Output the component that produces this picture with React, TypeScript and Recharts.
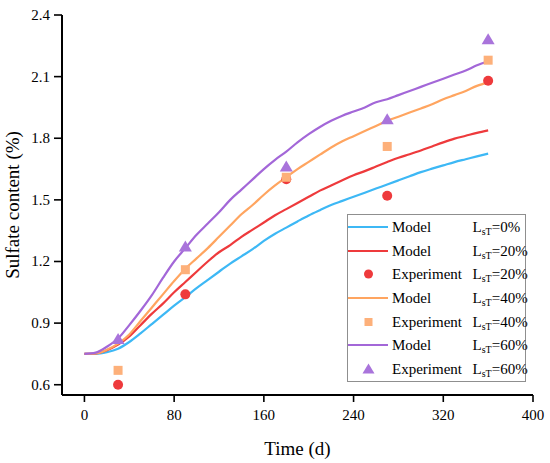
import React from "react";
import {
  ComposedChart,
  Line,
  Scatter,
  XAxis,
  YAxis,
  Legend,
  Label,
} from "recharts";

// ---- data ----
const days = [0, 10, 20, 30, 40, 50, 60, 70, 80, 90, 100, 110, 120, 130, 140, 150, 160, 170, 180, 190, 200, 210, 220, 230, 240, 250, 260, 270, 280, 290, 300, 310, 320, 330, 340, 350, 360];
const model0 = [0.75, 0.75, 0.758, 0.775, 0.808, 0.85, 0.895, 0.94, 0.985, 1.027, 1.07, 1.11, 1.15, 1.19, 1.225, 1.26, 1.3, 1.335, 1.365, 1.395, 1.424, 1.45, 1.475, 1.495, 1.515, 1.535, 1.555, 1.575, 1.595, 1.615, 1.635, 1.652, 1.668, 1.684, 1.698, 1.712, 1.725];
const model20 = [0.75, 0.752, 0.768, 0.795, 0.835, 0.89, 0.945, 0.995, 1.05, 1.1, 1.15, 1.2, 1.245, 1.28, 1.32, 1.355, 1.39, 1.425, 1.455, 1.485, 1.515, 1.545, 1.57, 1.595, 1.62, 1.64, 1.662, 1.684, 1.705, 1.722, 1.74, 1.76, 1.78, 1.798, 1.812, 1.826, 1.838];
const model40 = [0.75, 0.752, 0.77, 0.8, 0.845, 0.91, 0.975, 1.04, 1.105, 1.165, 1.215, 1.265, 1.32, 1.375, 1.43, 1.475, 1.525, 1.57, 1.61, 1.65, 1.685, 1.72, 1.755, 1.785, 1.81, 1.835, 1.86, 1.885, 1.905, 1.925, 1.945, 1.965, 1.99, 2.01, 2.03, 2.055, 2.072];
const model60 = [0.75, 0.756, 0.785, 0.825, 0.89, 0.96, 1.035, 1.12, 1.2, 1.265, 1.33, 1.385, 1.44, 1.5, 1.55, 1.6, 1.65, 1.695, 1.735, 1.78, 1.82, 1.855, 1.885, 1.91, 1.93, 1.95, 1.975, 1.99, 2.01, 2.03, 2.05, 2.07, 2.09, 2.11, 2.13, 2.155, 2.175];

const expDays = [30, 90, 180, 270, 360];
const exp20 = [0.6, 1.04, 1.6, 1.52, 2.08];
const exp40 = [0.67, 1.16, 1.61, 1.76, 2.18];
const exp60 = [0.82, 1.27, 1.66, 1.89, 2.28];

const xTicks = [0, 80, 160, 240, 320, 400];
const yTicks = [0.6, 0.9, 1.2, 1.5, 1.8, 2.1, 2.4];

// ---- styles ----
const C0 = "#3DB8F5";
const C20 = "#EE3A3C";
const C40 = "#FFA560";
const C40s = "#FDB07A";
const C60 = "#A367D8";
const C60t = "#A974DB";
const FONT = "Liberation Serif";

const modelTable = days.map((t, i) => ({
  t,
  m0: model0[i],
  m20: model20[i],
  m40: model40[i],
  m60: model60[i],
}));
const toPts = (vals: number[]) => expDays.map((t, i) => ({ t, v: vals[i] }));
const exp20Pts = toPts(exp20);
const exp40Pts = toPts(exp40);
const exp60Pts = toPts(exp60);

const CircleShape = (p: any) => <circle cx={p.cx} cy={p.cy} r={5} fill={C20} />;
const SquareShape = (p: any) => (
  <rect x={p.cx - 4.5} y={p.cy - 4.5} width={9} height={9} fill={C40s} />
);
const TriShape = (p: any) => (
  <polygon
    points={`${p.cx},${p.cy - 6.5} ${p.cx - 6.5},${p.cy + 4.5} ${p.cx + 6.5},${p.cy + 4.5}`}
    fill={C60t}
  />
);

type Row = { kind: "line" | "circle" | "square" | "tri"; color: string; name: string; pct: string };
const legendRows: Row[] = [
  { kind: "line", color: C0, name: "Model", pct: "0%" },
  { kind: "line", color: C20, name: "Model", pct: "20%" },
  { kind: "circle", color: C20, name: "Experiment", pct: "20%" },
  { kind: "line", color: C40, name: "Model", pct: "40%" },
  { kind: "square", color: C40s, name: "Experiment", pct: "40%" },
  { kind: "line", color: C60, name: "Model", pct: "60%" },
  { kind: "tri", color: C60t, name: "Experiment", pct: "60%" },
];

const LegendBox = () => (
  <div
    style={{
      width: 179,
      height: 168,
      border: "1px solid #8f8f8f",
      boxSizing: "border-box",
      background: "#fff",
      fontFamily: FONT,
      fontSize: 15,
      color: "#000",
    }}
  >
    {legendRows.map((r, i) => (
      <div key={i} style={{ position: "relative", height: 23.7 }}>
        <svg width={40} height={24} style={{ position: "absolute", left: 0, top: 0 }}>
          {r.kind === "line" && <line x1={0} x2={40} y1={12} y2={12} stroke={r.color} strokeWidth={2.2} />}
          {r.kind === "circle" && <circle cx={20.5} cy={12} r={4.5} fill={r.color} />}
          {r.kind === "square" && <rect x={16.5} y={8} width={8} height={8} fill={r.color} />}
          {r.kind === "tri" && <polygon points="20.5,6.5 14.5,16.5 26.5,16.5" fill={r.color} />}
        </svg>
        <span style={{ position: "absolute", left: 44, top: 3, lineHeight: "18px", whiteSpace: "nowrap" }}>{r.name}</span>
        <span style={{ position: "absolute", left: 124.5, top: 3, lineHeight: "18px", whiteSpace: "nowrap" }}>
          L<sub style={{ fontSize: 10, verticalAlign: "-3px", lineHeight: 0 }}>sT</sub>={r.pct}
        </span>
      </div>
    ))}
  </div>
);

const XTitle = (props: any) => {
  const vb = props.viewBox || { x: 62, y: 395, width: 471, height: 68 };
  return (
    <text x={vb.x + vb.width / 2} y={vb.y + 60} textAnchor="middle" style={{ fontFamily: FONT, fontSize: 19 }} fill="#000">
      Time (d)
    </text>
  );
};
const YTitle = (props: any) => {
  const vb = props.viewBox || { x: 0, y: 15, width: 62, height: 380 };
  const cx = vb.x + 19;
  const cy = vb.y + vb.height / 2;
  return (
    <text x={cx} y={cy} textAnchor="middle" transform={`rotate(-90, ${cx}, ${cy})`} style={{ fontFamily: FONT, fontSize: 19 }} fill="#000">
      Sulfate content (%)
    </text>
  );
};

const XTick = (p: any) => (
  <text x={p.x} y={p.y} dy={14} textAnchor="middle" style={{ fontFamily: FONT, fontSize: 15 }} fill="#000">
    {p.payload.value}
  </text>
);
const YTick = (p: any) => (
  <text x={p.x} y={p.y} dy={5} textAnchor="end" style={{ fontFamily: FONT, fontSize: 15 }} fill="#000">
    {Number(p.payload.value).toFixed(1)}
  </text>
);

export default function App() {
  return (
    <div style={{ position: "absolute", left: 0, top: 0, width: 550, height: 463, background: "#fff", fontFamily: FONT }}>
      <ComposedChart
        width={550}
        height={463}
        data={modelTable}
        margin={{ top: 15, right: 17, bottom: 0, left: 0 }}
        style={{ fontFamily: FONT }}
      >
        <XAxis
          dataKey="t"
          type="number"
          domain={[-20, 400]}
          ticks={xTicks}
          allowDataOverflow
          height={68}
          tickSize={7}
          tickMargin={4}
          tick={<XTick />}
          axisLine={{ stroke: "#000", strokeWidth: 2 }}
          tickLine={{ stroke: "#000", strokeWidth: 1.6 }}
        >
          <Label content={<XTitle />} />
        </XAxis>
        <XAxis
          xAxisId="top"
          orientation="top"
          type="number"
          domain={[-20, 400]}
          height={0}
          tick={false}
          tickLine={false}
          axisLine={{ stroke: "#000", strokeWidth: 2 }}
        />
        <YAxis
          type="number"
          domain={[0.55, 2.4]}
          ticks={yTicks}
          allowDataOverflow
          width={62}
          tickSize={8}
          tickMargin={4}
          tick={<YTick />}
          axisLine={{ stroke: "#000", strokeWidth: 2 }}
          tickLine={{ stroke: "#000", strokeWidth: 1.6 }}
        >
          <Label content={<YTitle />} />
        </YAxis>
        <YAxis
          yAxisId="right"
          orientation="right"
          type="number"
          domain={[0.55, 2.4]}
          width={0}
          tick={false}
          tickLine={false}
          axisLine={{ stroke: "#000", strokeWidth: 2 }}
        />
        <Line dataKey="m0" type="monotone" stroke={C0} strokeWidth={2.2} dot={false} isAnimationActive={false} />
        <Line dataKey="m20" type="monotone" stroke={C20} strokeWidth={2.2} dot={false} isAnimationActive={false} />
        <Scatter data={exp20Pts} dataKey="v" shape={CircleShape} isAnimationActive={false} />
        <Line dataKey="m40" type="monotone" stroke={C40} strokeWidth={2.2} dot={false} isAnimationActive={false} />
        <Scatter data={exp40Pts} dataKey="v" shape={SquareShape} isAnimationActive={false} />
        <Line dataKey="m60" type="monotone" stroke={C60} strokeWidth={2.2} dot={false} isAnimationActive={false} />
        <Scatter data={exp60Pts} dataKey="v" shape={TriShape} isAnimationActive={false} />
        <Legend
          layout="vertical"
          align="center"
          verticalAlign="middle"
          content={<LegendBox />}
          wrapperStyle={{ position: "absolute", left: 347, top: 214, width: 179, height: 168, margin: 0, padding: 0 }}
        />
      </ComposedChart>
    </div>
  );
}
